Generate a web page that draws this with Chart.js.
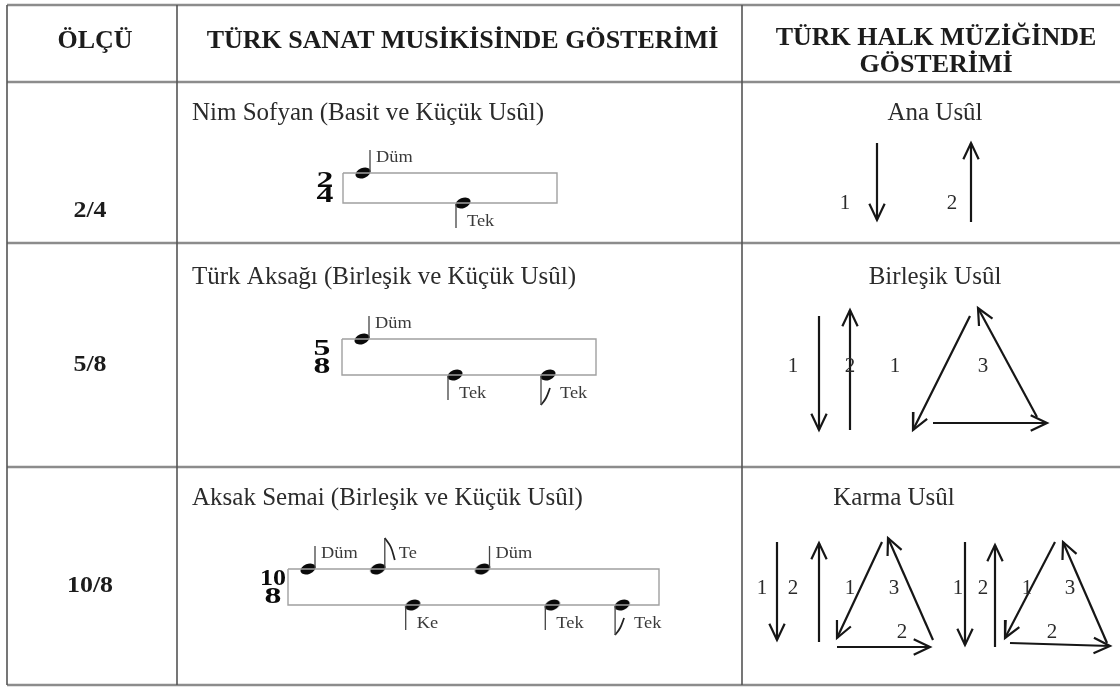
<!DOCTYPE html>
<html lang="tr">
<head>
<meta charset="utf-8">
<title>Usûl gösterimi</title>
<script src="https://cdn.jsdelivr.net/npm/chart.js@4.4.1/dist/chart.umd.min.js"></script>
<style>
  html, body { margin: 0; padding: 0; background: #fff; }
  #box { width: 1120px; height: 687px; }
</style>
</head>
<body>
<div id="box"><canvas id="chart"></canvas></div>
<script>
// table content
const columnHeaders = [['ÖLÇÜ'], ['TÜRK SANAT MUSİKİSİNDE GÖSTERİMİ'], ['TÜRK HALK MÜZİĞİNDE', 'GÖSTERİMİ']];
const meters = ['2/4', '5/8', '10/8'];
const sanatUsul = ['Nim Sofyan (Basit ve Küçük Usûl)', 'Türk Aksağı (Birleşik ve Küçük Usûl)', 'Aksak Semai (Birleşik ve Küçük Usûl)'];
const halkUsul = ['Ana Usûl', 'Birleşik Usûl', 'Karma Usûl'];

// strokes of each usul and their length in eighth notes
const strokes = [['Düm', 'Tek'], ['Düm', 'Tek', 'Tek'], ['Düm', 'Te', 'Ke', 'Düm', 'Tek', 'Tek']];
const strokeEighths = [[2, 2], [2, 2, 1], [2, 1, 2, 2, 2, 1]];
const highStrokes = ['Düm', 'Te'];

// halk music: hand movements and their counts
const halkMoves = [
  ['down', 'up'],
  ['down', 'up', 'triangle'],
  ['down', 'up', 'triangle', 'down', 'up', 'triangle']
];
const halkCounts = [
  ['1', '2'],
  ['1', '2', ['1', '', '3']],
  ['1', '2', ['1', '2', '3'], '1', '2', ['1', '2', '3']]
];

// ---- layout (picture pixels) ----
const W = 1120, H = 687;
const colEdges = [7, 177, 742, 1125];
const rowEdges = [5, 82, 243, 467, 685];
const headerLineY = [[42], [42], [39, 66]];
const meterY = [211, 365, 586];
const titleX = 192, titleY = [113, 277, 498];
const halkTitleX = [935, 935, 894];
const staffs = [
  { x0: 343, x1: 557, top: 173, bottom: 203, sigX: 325, first: 363, eighth: 50 },
  { x0: 342, x1: 596, top: 339, bottom: 375, sigX: 322, first: 362, eighth: 46.5 },
  { x0: 288, x1: 659, top: 569, bottom: 605, sigX: 273, first: 308, eighth: 34.9 }
];
const figures = [
  [{ x: 877, top: 143, bottom: 220, lx: 845, ly: 203 }, { x: 971, top: 143, bottom: 222, lx: 952, ly: 203 }],
  [{ x: 819, top: 316, bottom: 430, lx: 793, ly: 366 }, { x: 850, top: 310, bottom: 430, lx: 850, ly: 366 },
   { edges: [[970, 316, 913, 430], [933, 423, 1047, 423], [1037, 417, 978, 308]], nums: [[895, 366], [990, 405], [983, 366]] }],
  [{ x: 777, top: 542, bottom: 640, lx: 762, ly: 588 }, { x: 819, top: 543, bottom: 642, lx: 793, ly: 588 },
   { edges: [[882, 542, 837, 638], [837, 647, 930, 647], [933, 640, 888, 538]], nums: [[850, 588], [902, 632], [894, 588]] },
   { x: 965, top: 542, bottom: 645, lx: 958, ly: 588 }, { x: 995, top: 545, bottom: 647, lx: 983, ly: 588 },
   { edges: [[1055, 542, 1005, 638], [1010, 643, 1110, 646], [1107, 643, 1063, 542]], nums: [[1027, 588], [1052, 632], [1070, 588]] }]
];

const ink = '#161616';
const serif = '"Liberation Serif", "Times New Roman", serif';

// ---- datasets ----
const datasets = [];
function seg(points, color, width, tension) {
  datasets.push({
    data: points.map(p => ({ x: p[0], y: p[1] })),
    showLine: true, borderColor: color, borderWidth: width,
    pointRadius: 0, fill: false, tension: tension || 0
  });
}
function arrow(x1, y1, x2, y2) {
  seg([[x1, y1], [x2, y2]], ink, 2.2);
  const a = Math.atan2(y2 - y1, x2 - x1), L = 18, t = 0.44;
  seg([[x2 - L * Math.cos(a - t), y2 - L * Math.sin(a - t)], [x2, y2],
       [x2 - L * Math.cos(a + t), y2 - L * Math.sin(a + t)]], ink, 2.2);
}

// table grid
colEdges.forEach(c => seg([[c, rowEdges[0]], [c, rowEdges[rowEdges.length - 1]]], '#555', 1.6));
rowEdges.forEach(r => seg([[colEdges[0], r], [colEdges[colEdges.length - 1], r]], '#8c8c8c', 2.6));

// note head image
const head = document.createElement('canvas');
head.width = 20; head.height = 14;
(function () {
  const c = head.getContext('2d');
  c.fillStyle = '#0a0a0a';
  c.beginPath();
  c.ellipse(10, 7, 7.8, 5, -0.38, 0, Math.PI * 2);
  c.fill();
})();

const noteLabels = [];
staffs.forEach((s, r) => {
  seg([[s.x0, s.top], [s.x1, s.top], [s.x1, s.bottom], [s.x0, s.bottom], [s.x0, s.top]], '#a0a0a0', 1.4);
  let beat = 0;
  const heads = [];
  strokes[r].forEach((name, i) => {
    const hx = s.first + beat * s.eighth;
    const high = highStrokes.includes(name);
    const eighth = strokeEighths[r][i] === 1;
    if (high) {
      const sx = hx + 7, top = s.top - (eighth ? 31 : 23);
      seg([[sx, s.top - 1], [sx, top]], '#444', 1.3);
      if (eighth) seg([[sx, top], [sx + 6, top + 9], [sx + 10, top + 22]], '#222', 1.8, 0.4);
      heads.push({ x: hx, y: s.top });
      noteLabels.push({ text: name, x: hx + (eighth ? 21 : 13), y: s.top - 15 });
    } else {
      const sx = hx - 7, bot = s.bottom + (eighth ? 30 : 25);
      seg([[sx, s.bottom + 1], [sx, bot]], '#444', 1.3);
      if (eighth) seg([[sx, bot], [sx + 5, bot - 7], [sx + 9, bot - 17]], '#222', 1.8, 0.4);
      heads.push({ x: hx, y: s.bottom });
      noteLabels.push({ text: name, x: hx + (eighth ? 12 : 4), y: s.bottom + 19 });
    }
    beat += strokeEighths[r][i];
  });
  datasets.push({ data: heads, pointStyle: head, pointRadius: 7, showLine: false });
});

// halk hand movements
const moveLabels = [];
halkMoves.forEach((moves, r) => {
  moves.forEach((m, i) => {
    const f = figures[r][i];
    const count = halkCounts[r][i];
    if (m === 'down') {
      arrow(f.x, f.top, f.x, f.bottom);
      moveLabels.push({ text: count, x: f.lx, y: f.ly });
    } else if (m === 'up') {
      arrow(f.x, f.bottom, f.x, f.top);
      moveLabels.push({ text: count, x: f.lx, y: f.ly });
    } else {
      f.edges.forEach(e => arrow(e[0], e[1], e[2], e[3]));
      count.forEach((c, k) => { if (c) moveLabels.push({ text: c, x: f.nums[k][0], y: f.nums[k][1] }); });
    }
  });
});

// ---- texts ----
const textPlugin = {
  id: 'tableText',
  afterDatasetsDraw(chart) {
    const { ctx, scales: { x, y } } = chart;
    const put = (str, vx, vy, font, color, align, sx, sy) => {
      ctx.save();
      ctx.font = font;
      ctx.fillStyle = color;
      ctx.textAlign = align || 'center';
      ctx.textBaseline = 'middle';
      ctx.translate(x.getPixelForValue(vx), y.getPixelForValue(vy));
      if (sx) ctx.scale(sx, sy || 1);
      ctx.fillText(str, 0, 0);
      ctx.restore();
    };
    columnHeaders.forEach((lines, c) => {
      const cx = c === 2 ? 936 : (colEdges[c] + colEdges[c + 1]) / 2 + 3;
      lines.forEach((t, k) => put(t, cx, headerLineY[c][k], 'bold 25px ' + serif, '#1c1c1c', 'center', 1.04, 1));
    });
    meters.forEach((m, r) => {
      put(m, 90, meterY[r], 'bold 24px ' + serif, '#1c1c1c', 'center', 1.08, 1);
      put(sanatUsul[r], titleX, titleY[r], '25px ' + serif, '#2b2b2b', 'left');
      put(halkUsul[r], halkTitleX[r], titleY[r], '25px ' + serif, '#2b2b2b');
      const s = staffs[r], parts = m.split('/'), h = s.bottom - s.top;
      const sx = parts[0].length > 1 ? 1.0 : 1.3;
      put(parts[0], s.sigX, s.top + h * 0.27, '900 26px ' + serif, '#0a0a0a', 'center', sx, 0.88);
      put(parts[1], s.sigX, s.top + h * 0.78, '900 26px ' + serif, '#0a0a0a', 'center', 1.3, 0.88);
    });
    noteLabels.forEach(n => put(n.text, n.x, n.y, '17px ' + serif, '#3a3a3a', 'left', 1.08, 1));
    moveLabels.forEach(n => put(n.text, n.x, n.y, '21px ' + serif, '#2b2b2b'));
  }
};

new Chart(document.getElementById('chart'), {
  type: 'scatter',
  data: { datasets },
  options: {
    responsive: true,
    maintainAspectRatio: false,
    animation: false,
    events: [],
    layout: { padding: 0, autoPadding: false },
    plugins: { legend: { display: false }, tooltip: { enabled: false } },
    scales: {
      x: { type: 'linear', min: 0, max: W, display: false },
      y: { type: 'linear', min: 0, max: H, reverse: true, display: false }
    }
  },
  plugins: [textPlugin]
});
</script>
</body>
</html>
